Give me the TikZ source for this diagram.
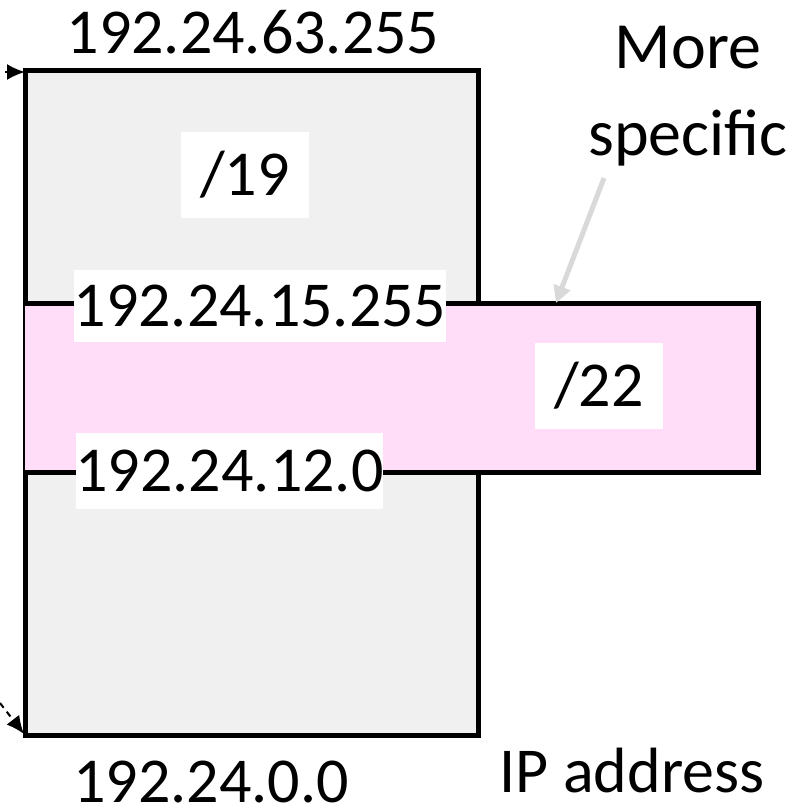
\documentclass[tikz,border=0pt]{standalone}
\usepackage{fontspec}
\setmainfont{Carlito}
\usetikzlibrary{arrows.meta}
\definecolor{blockgray}{HTML}{F0F0F0}
\definecolor{blockpink}{HTML}{FFDCF7}
\definecolor{arrowgray}{HTML}{D9D9D9}
\tikzset{
  edge/.style={line width=5pt, line cap=rect},
  lbl/.style={font=\fontsize{64}{76}\selectfont, inner sep=0pt, anchor=base},
  boxlbl/.style={font=\fontsize{64}{76}\selectfont, fill=white, inner sep=0pt, anchor=center},
}
\begin{document}
\begin{tikzpicture}[x=1pt,y=-1pt]
\useasboundingbox (0,0) rectangle (812,806);
% /19 block
\fill[blockgray] (25,70) rectangle (478,735);
\draw[edge] (25,70) rectangle (478,735);
% /22 block
\fill[blockpink] (25,303) rectangle (758,472);
\draw[edge] (25,303) -- (758,303) -- (758,472) -- (25,472);
% axes stubs
\coordinate (corner top) at (25,72);
\coordinate (corner bot) at (24,734);
\coordinate (ytail) at (5,72);
\coordinate (xtail) at (0,703);
\draw[line width=2pt, -{Latex[length=18pt,width=16pt]}] (ytail) -- (corner top);
\draw[line width=2pt, dashed, dash pattern=on 6pt off 5pt, -{Latex[length=18pt,width=16pt]}] (xtail) -- (corner bot);
% labels
\node[lbl] (top) at (253,53) {192.24.63.255};
\node[boxlbl, minimum width=128pt, minimum height=86pt] (p19) at (245,175) {/19};
\node[boxlbl, minimum width=372pt, minimum height=72pt] (hi) at (260,306) {192.24.15.255};
\node[boxlbl, minimum width=128pt, minimum height=86pt] (p22) at (599,386) {/22};
\node[boxlbl, minimum width=307pt, minimum height=76pt] (lo) at (229.5,471) {192.24.12.0};
\node[lbl] (bot) at (211,802) {192.24.0.0};
\node[lbl] (ip) at (632,792) {IP address};
\node[font=\fontsize{66}{87}\selectfont, align=center, inner sep=0pt, anchor=base] (ms) at (688,155) {More\\specific};
\coordinate (mstip) at (556,303);
\draw[arrowgray, line width=5pt, -{Triangle[length=17pt,width=17pt]}] (604,178) -- (mstip);
\end{tikzpicture}
\end{document}
